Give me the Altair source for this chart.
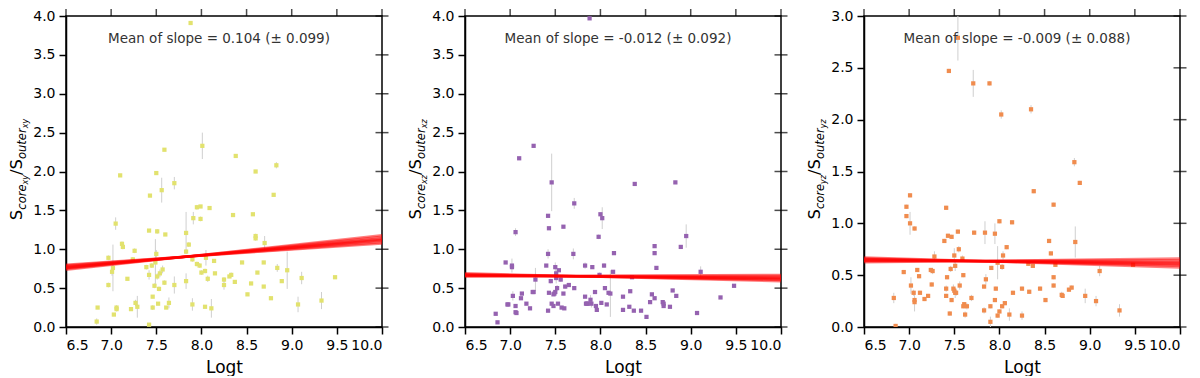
import altair as alt
import pandas as pd

# ---------------- data ----------------
logt1 = [6.84, 6.85, 6.97, 6.97, 7.02, 7.01, 7.03, 7.05, 7.06, 7.06, 7.10, 7.12, 7.13, 7.18, 7.22, 7.24,
         7.26, 7.27, 7.29, 7.39, 7.42, 7.42, 7.42, 7.43, 7.45, 7.46, 7.46, 7.48, 7.49, 7.50, 7.50, 7.51,
         7.51, 7.52, 7.53, 7.54, 7.56, 7.57, 7.59, 7.59, 7.60, 7.61, 7.64, 7.70, 7.70, 7.83, 7.83, 7.83,
         7.86, 7.88, 7.90, 7.90, 7.91, 7.95, 7.95, 7.98, 7.99, 7.99, 8.00, 8.01, 8.04, 8.04, 8.05, 8.07,
         8.09, 8.11, 8.14, 8.15, 8.25, 8.25, 8.31, 8.33, 8.35, 8.37, 8.38, 8.45, 8.51, 8.55, 8.57, 8.60,
         8.60, 8.60, 8.62, 8.69, 8.69, 8.70, 8.77, 8.80, 8.83, 8.84, 8.89, 8.95, 9.07, 9.11, 9.33, 9.48]
ratio1 = [0.07, 0.25, 0.89, 0.54, 0.76, 0.71, 0.16, 1.33, 0.25, 0.23, 1.95, 1.07, 1.03, 0.62, 0.23, 0.87,
          0.98, 0.31, 0.26, 0.77, 1.24, 0.67, 0.03, 1.69, 0.79, 0.39, 0.25, 0.53, 0.83, 0.94, 1.98, 0.65,
          1.23, 0.30, 0.49, 0.69, 1.76, 0.74, 2.28, 0.57, 1.19, 0.25, 0.31, 0.54, 1.85, 0.59, 1.21, 0.97,
          1.06, 3.91, 0.29, 0.87, 1.40, 1.54, 0.81, 0.79, 1.39, 1.55, 0.70, 2.33, 0.72, 0.26, 0.89, 0.62,
          1.53, 0.24, 0.85, 0.69, 0.61, 0.54, 0.65, 0.67, 1.44, 0.58, 2.20, 0.83, 0.42, 0.56, 1.45, 2.00,
          1.17, 1.14, 0.70, 0.83, 0.52, 1.08, 0.37, 1.70, 2.08, 0.76, 0.59, 0.73, 0.29, 0.63, 0.34, 0.64]
err1 = [0.04, 0.02, 0.03, 0.03, 0.30, 0.05, 0.02, 0.08, 0.03, 0.03, 0.02, 0.03, 0.03, 0.02, 0.02, 0.03,
        0.03, 0.04, 0.14, 0.03, 0.02, 0.06, 0.02, 0.02, 0.03, 0.02, 0.03, 0.03, 0.30, 0.05, 0.02, 0.04,
        0.03, 0.02, 0.03, 0.05, 0.16, 0.05, 0.02, 0.03, 0.02, 0.02, 0.07, 0.11, 0.08, 0.10, 0.27, 0.03,
        0.03, 0.02, 0.08, 0.03, 0.08, 0.03, 0.03, 0.03, 0.03, 0.02, 0.03, 0.17, 0.03, 0.02, 0.10, 0.04,
        0.02, 0.12, 0.02, 0.02, 0.03, 0.06, 0.02, 0.03, 0.02, 0.02, 0.02, 0.02, 0.02, 0.02, 0.02, 0.02,
        0.03, 0.03, 0.02, 0.02, 0.02, 0.09, 0.02, 0.02, 0.04, 0.05, 0.02, 0.24, 0.10, 0.08, 0.11, 0.02]

logt2 = [6.84, 6.86, 6.95, 6.97, 6.98, 7.02, 7.02, 7.03, 7.06, 7.06, 7.06, 7.07, 7.10, 7.12, 7.13, 7.18,
         7.22, 7.25, 7.26, 7.26, 7.28, 7.40, 7.42, 7.42, 7.43, 7.42, 7.43, 7.45, 7.46, 7.46, 7.48, 7.48,
         7.49, 7.50, 7.50, 7.51, 7.51, 7.52, 7.53, 7.54, 7.56, 7.57, 7.59, 7.59, 7.60, 7.61, 7.65, 7.70,
         7.71, 7.71, 7.83, 7.83, 7.84, 7.85, 7.86, 7.88, 7.89, 7.90, 7.91, 7.94, 7.95, 7.96, 7.98, 7.99,
         8.00, 8.02, 8.01, 8.04, 8.05, 8.07, 8.09, 8.11, 8.14, 8.15, 8.25, 8.25, 8.32, 8.33, 8.35, 8.37,
         8.38, 8.45, 8.51, 8.55, 8.57, 8.60, 8.60, 8.60, 8.62, 8.69, 8.70, 8.70, 8.77, 8.80, 8.83, 8.84,
         8.89, 8.95, 9.07, 9.11, 9.33, 9.48]
ratio2 = [0.17, 0.06, 0.83, 0.29, 0.29, 0.79, 0.77, 0.40, 1.22, 0.27, 0.19, 0.18, 2.17, 0.37, 0.43, 0.30,
          0.24, 0.45, 0.45, 2.33, 0.61, 0.79, 1.43, 0.21, 1.27, 0.94, 0.44, 0.59, 1.86, 0.30, 0.42, 0.27,
          0.43, 0.77, 0.45, 0.63, 0.69, 0.50, 0.30, 0.73, 0.61, 0.25, 1.29, 0.43, 0.24, 0.52, 0.54, 0.94,
          1.59, 0.50, 0.79, 0.39, 0.30, 0.30, 0.30, 3.97, 0.35, 0.30, 0.77, 0.45, 0.27, 0.22, 1.16, 0.67,
          1.45, 1.40, 0.31, 0.79, 0.50, 0.29, 0.44, 0.43, 0.71, 0.95, 0.39, 0.22, 0.26, 0.46, 0.64, 0.21,
          1.84, 0.21, 0.13, 0.32, 0.42, 0.37, 1.04, 0.95, 0.76, 0.32, 0.27, 0.30, 0.26, 0.47, 1.86, 0.40,
          1.03, 1.17, 0.18, 0.71, 0.38, 0.53]
err2 = [0.02, 0.02, 0.02, 0.02, 0.02, 0.09, 0.03, 0.06, 0.05, 0.02, 0.02, 0.02, 0.02, 0.02, 0.02, 0.02,
        0.02, 0.02, 0.02, 0.02, 0.15, 0.02, 0.02, 0.02, 0.02, 0.06, 0.02, 0.03, 0.37, 0.02, 0.02, 0.02,
        0.02, 0.06, 0.03, 0.07, 0.05, 0.04, 0.02, 0.02, 0.03, 0.02, 0.02, 0.02, 0.02, 0.03, 0.02, 0.07,
        0.07, 0.02, 0.04, 0.02, 0.03, 0.02, 0.02, 0.02, 0.06, 0.05, 0.02, 0.02, 0.02, 0.02, 0.03, 0.03,
        0.02, 0.14, 0.02, 0.03, 0.02, 0.02, 0.02, 0.30, 0.02, 0.02, 0.02, 0.02, 0.02, 0.02, 0.02, 0.02,
        0.02, 0.02, 0.02, 0.02, 0.02, 0.02, 0.02, 0.02, 0.02, 0.02, 0.02, 0.02, 0.02, 0.02, 0.02, 0.02,
        0.02, 0.15, 0.02, 0.07, 0.02, 0.02]

logt3 = [6.83, 6.85, 6.94, 6.97, 6.97, 7.01, 7.01, 7.02, 7.05, 7.06, 7.06, 7.06, 7.09, 7.11, 7.12, 7.17,
         7.21, 7.24, 7.25, 7.26, 7.28, 7.39, 7.41, 7.41, 7.41, 7.42, 7.43, 7.44, 7.45, 7.46, 7.47, 7.47,
         7.49, 7.50, 7.50, 7.51, 7.51, 7.52, 7.54, 7.54, 7.55, 7.56, 7.59, 7.60, 7.60, 7.61, 7.62, 7.64,
         7.69, 7.71, 7.72, 7.83, 7.83, 7.84, 7.85, 7.89, 7.90, 7.90, 7.91, 7.95, 7.95, 7.96, 7.98, 7.98,
         8.00, 8.00, 8.02, 8.03, 8.03, 8.04, 8.06, 8.08, 8.11, 8.14, 8.15, 8.25, 8.25, 8.32, 8.33, 8.35,
         8.37, 8.38, 8.45, 8.51, 8.55, 8.57, 8.60, 8.60, 8.60, 8.62, 8.69, 8.70, 8.77, 8.80, 8.83, 8.84,
         8.89, 8.95, 9.07, 9.11, 9.33, 9.48]
ratio3 = [0.28, 0.01, 0.53, 1.16, 1.07, 1.27, 1.00, 0.40, 0.33, 0.26, 0.24, 0.95, 0.55, 0.49, 0.33, 0.27,
          0.30, 0.55, 0.41, 0.54, 0.68, 0.83, 1.15, 0.37, 0.30, 0.48, 0.88, 2.47, 0.13, 0.56, 0.87, 0.26,
          0.37, 0.35, 0.69, 0.59, 0.33, 0.33, 0.92, 2.79, 0.75, 0.40, 0.66, 0.20, 0.50, 0.22, 0.12, 0.20,
          0.28, 2.35, 0.91, 0.16, 0.39, 0.91, 0.46, 2.35, 0.05, 0.20, 0.57, 0.26, 0.90, 0.37, 0.62, 0.11,
          1.02, 0.15, 2.05, 0.58, 0.20, 0.69, 0.23, 0.77, 0.12, 1.01, 0.33, 0.37, 0.11, 0.61, 0.34, 2.10,
          0.59, 1.31, 0.37, 0.26, 0.83, 0.71, 1.18, 0.40, 0.48, 0.60, 0.31, 0.30, 0.36, 0.38, 1.59, 0.82,
          1.39, 0.30, 0.25, 0.54, 0.16, 0.60]
err3 = [0.05, 0.02, 0.02, 0.02, 0.02, 0.02, 0.11, 0.08, 0.03, 0.03, 0.09, 0.02, 0.02, 0.02, 0.02, 0.02,
        0.02, 0.02, 0.02, 0.03, 0.05, 0.02, 0.02, 0.03, 0.02, 0.02, 0.02, 0.02, 0.02, 0.03, 0.02, 0.02,
        0.04, 0.03, 0.07, 0.05, 0.05, 0.03, 0.02, 0.22, 0.03, 0.04, 0.03, 0.02, 0.02, 0.02, 0.03, 0.03,
        0.03, 0.13, 0.02, 0.03, 0.02, 0.11, 0.05, 0.02, 0.05, 0.02, 0.02, 0.02, 0.10, 0.02, 0.16, 0.02,
        0.02, 0.02, 0.04, 0.03, 0.02, 0.04, 0.02, 0.02, 0.06, 0.02, 0.02, 0.02, 0.04, 0.02, 0.02, 0.04,
        0.02, 0.02, 0.02, 0.02, 0.02, 0.02, 0.02, 0.02, 0.02, 0.02, 0.03, 0.02, 0.02, 0.02, 0.04, 0.15,
        0.02, 0.07, 0.05, 0.05, 0.06, 0.02]

# bootstrap regression lines: values at logt = 6.5 and logt = 10.0
fit_x = [6.5, 10.0]
fit1_start = [0.735, 0.75, 0.76, 0.765, 0.77, 0.78, 0.79, 0.80]
fit1_end = [1.18, 1.16, 1.14, 1.13, 1.12, 1.11, 1.09, 1.075]
fit2_start = [0.69, 0.68, 0.675, 0.67, 0.665, 0.66, 0.655, 0.65]
fit2_end = [0.59, 0.605, 0.615, 0.625, 0.63, 0.64, 0.655, 0.67]
fit3_start = [0.67, 0.66, 0.655, 0.65, 0.645, 0.64, 0.635, 0.625]
fit3_end = [0.575, 0.59, 0.60, 0.61, 0.62, 0.63, 0.645, 0.66]

notes = ["Mean of slope = 0.104 (± 0.099)",
         "Mean of slope = -0.012 (± 0.092)",
         "Mean of slope = -0.009 (± 0.088)"]
planes = ["xy", "xz", "yz"]
colors = ["#e2e26e", "#9562b0", "#f08c4e"]
xticks = [6.5, 7.0, 7.5, 8.0, 8.5, 9.0, 9.5, 10.0]
yticks4 = [0.0, 0.5, 1.0, 1.5, 2.0, 2.5, 3.0, 3.5, 4.0]
yticks3 = [0.0, 0.5, 1.0, 1.5, 2.0, 2.5, 3.0]

# ---------------- layout ----------------
W, H = 316, 311
FONT = "DejaVu Sans"
CHAR_W = {"S": 0.635, "c": 0.550, "o": 0.612, "r": 0.411, "e": 0.615, "x": 0.592,
          "y": 0.592, "z": 0.525, "/": 0.337, "u": 0.634, "t": 0.392}


def text_w(s, size):
    return sum(CHAR_W[ch] for ch in s) * size


def ytitle_layers(sub):
    pieces = [("S", 16.5, "normal", 0.0), ("core", 11.5, "italic", 3.5), (sub, 8.0, "italic", 5.5),
              ("/", 16.5, "normal", 0.0), ("S", 16.5, "normal", 0.0), ("outer", 11.5, "italic", 3.5),
              (sub, 8.0, "italic", 5.5)]
    total = sum(text_w(p[0], p[1]) for p in pieces)
    ypos = H / 2 + total / 2 - 2
    base_x = -44
    out = []
    for txt, size, style, shift in pieces:
        out.append(
            alt.Chart(pd.DataFrame({"t": [txt]})).mark_text(
                angle=270, align="left", baseline="alphabetic", font=FONT,
                fontSize=size, fontStyle=style, color="black"
            ).encode(x=alt.value(base_x + shift), y=alt.value(ypos), text="t:N")
        )
        ypos -= text_w(txt, size)
    return out


def panel(logt, ratio, err, color, ymax, yticks, starts, ends, note, sub):
    xs = alt.Scale(domain=[6.5, 10.0], nice=False, zero=False)
    ys = alt.Scale(domain=[0, ymax], nice=False, zero=False)
    xaxis = alt.Axis(values=xticks, format=".1f", title="Logt")
    yaxis = alt.Axis(values=yticks, format=".1f", title=None)

    df = pd.DataFrame({"logt": logt, "ratio": ratio,
                       "lo": [r - e for r, e in zip(ratio, err)],
                       "hi": [r + e for r, e in zip(ratio, err)]})
    rows = []
    for i, (a, b) in enumerate(zip(starts, ends)):
        rows.append({"logt": fit_x[0], "ratio": a, "k": i})
        rows.append({"logt": fit_x[1], "ratio": b, "k": i})
    fit = pd.DataFrame(rows)

    X = alt.X("logt:Q", scale=xs, axis=xaxis)
    errbars = alt.Chart(df).mark_rule(color="#cfcfcf", strokeWidth=1, clip=True).encode(
        x=X, y=alt.Y("lo:Q", scale=ys, axis=yaxis), y2="hi:Q")
    pts = alt.Chart(df).mark_square(size=18, color=color, opacity=1, clip=True).encode(
        x=X, y=alt.Y("ratio:Q", scale=ys, axis=yaxis))
    lines = alt.Chart(fit).mark_line(color="red", strokeWidth=2.5, opacity=0.5, clip=True).encode(
        x=X, y=alt.Y("ratio:Q", scale=ys, axis=yaxis), detail="k:N")
    rticks = alt.Chart(pd.DataFrame({"logt": [10.0] * len(yticks), "ratio": yticks})).mark_tick(
        orient="horizontal", size=13, thickness=1.5, color="black").encode(
        x=X, y=alt.Y("ratio:Q", scale=ys, axis=yaxis))
    tticks = alt.Chart(pd.DataFrame({"logt": xticks, "ratio": [ymax] * len(xticks)})).mark_tick(
        orient="vertical", size=7, thickness=1.5, color="black", yOffset=-3.5).encode(
        x=X, y=alt.Y("ratio:Q", scale=ys, axis=yaxis))
    label = alt.Chart(pd.DataFrame({"t": [note]})).mark_text(
        font=FONT, fontSize=13.5, color="#333333", align="center", baseline="middle"
    ).encode(x=alt.value(W / 2 - 5), y=alt.value(23), text="t:N")

    return alt.layer(errbars, pts, lines, rticks, tticks, label, *ytitle_layers(sub)).properties(
        width=W, height=H)


p1 = panel(logt1, ratio1, err1, colors[0], 4.0, yticks4, fit1_start, fit1_end, notes[0], planes[0])
p2 = panel(logt2, ratio2, err2, colors[1], 4.0, yticks4, fit2_start, fit2_end, notes[1], planes[1])
p3 = panel(logt3, ratio3, err3, colors[2], 3.0, yticks3, fit3_start, fit3_end, notes[2], planes[2])

chart = alt.hconcat(p1, p2, p3, spacing=17).properties(
    padding={"left": 0, "top": 0, "right": 0, "bottom": 0}
).configure_view(
    stroke="black", strokeWidth=1.5
).configure_axis(
    grid=False, domainColor="black", domainWidth=1.5, tickColor="black", tickWidth=1.5,
    tickSize=7, labelFont=FONT, labelFontSize=14, labelColor="black", labelPadding=4,
    titleFont=FONT, titleFontSize=17, titleFontWeight="normal", titleColor="black", titlePadding=7
)

chart.save("out.html", embed_options={"renderer": "svg", "actions": False})
